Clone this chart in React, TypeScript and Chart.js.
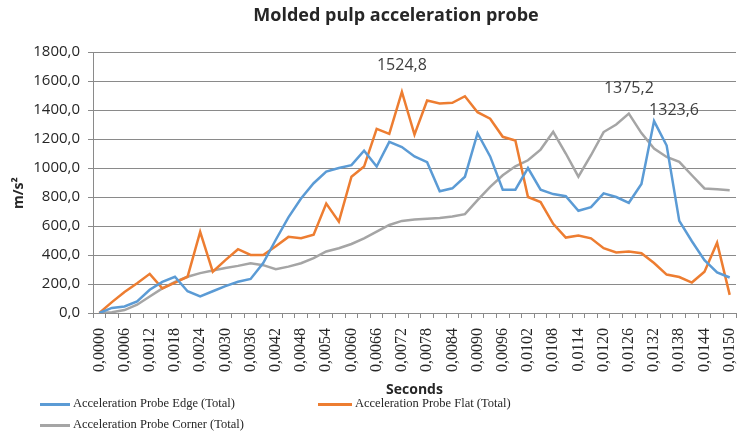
import React, { useEffect, useRef } from "react";
import { Chart, registerables } from "chart.js";

Chart.register(...registerables);

const categories: string[] = [
  "0,0000", "0,0003", "0,0006", "0,0009", "0,0012", "0,0015", "0,0018", "0,0021", "0,0024", "0,0027",
  "0,0030", "0,0033", "0,0036", "0,0039", "0,0042", "0,0045", "0,0048", "0,0051", "0,0054", "0,0057",
  "0,0060", "0,0063", "0,0066", "0,0069", "0,0072", "0,0075", "0,0078", "0,0081", "0,0084", "0,0087",
  "0,0090", "0,0093", "0,0096", "0,0099", "0,0102", "0,0105", "0,0108", "0,0111", "0,0114", "0,0117",
  "0,0120", "0,0123", "0,0126", "0,0129", "0,0132", "0,0135", "0,0138", "0,0141", "0,0144", "0,0147",
  "0,0150",
];

const edgeValues: number[] = [
  0, 35, 45, 80, 160, 215, 250, 150, 115, 150,
  185, 215, 235, 345, 505, 660, 790, 895, 975, 1000,
  1020, 1120, 1010, 1180, 1145, 1080, 1040, 840, 860, 940,
  1240, 1080, 850, 850, 1000, 850, 820, 805, 705, 730,
  825, 800, 760, 890, 1323.6, 1155, 635, 495, 365, 280,
  245,
];

const flatValues: number[] = [
  0, 75, 145, 205, 270, 170, 210, 250, 560, 285,
  365, 440, 400, 400, 460, 525, 515, 540, 755, 630,
  940, 1010, 1270, 1235, 1524.8, 1230, 1465, 1445, 1450, 1495,
  1385, 1340, 1215, 1190, 800, 765, 615, 520, 535, 515,
  447, 417, 424, 412, 345, 265, 248, 210, 285, 485,
  125,
];

const cornerValues: number[] = [
  0, 5, 20, 57, 114, 170, 215, 250, 275, 293,
  310, 325, 343, 330, 302, 320, 343, 378, 424, 447,
  476, 515, 561, 607, 635, 645, 650, 655, 665, 682,
  779, 870, 950, 1012, 1053, 1127, 1250, 1100, 940, 1088,
  1248, 1300, 1375.2, 1241, 1134, 1076, 1042, 950, 859, 854,
  847,
];

const seriesNames: string[] = [
  "Acceleration Probe Edge (Total)",
  "Acceleration Probe Flat (Total)",
  "Acceleration Probe Corner (Total)",
];
const seriesColors: string[] = ["#5b9bd5", "#ed7d31", "#a5a5a5"];

// which points carry a value label: [dataset index, point index, dx, dy]
const labelledPoints: [number, number, number, number][] = [
  [1, 24, 0, -26],
  [2, 42, 0, -25],
  [0, 44, 20, -11],
];

const fmt = (v: number) => v.toFixed(1).replace(".", ",");

const GRID = "#8a8a8a";

const valueLabelPlugin = {
  id: "valueLabels",
  afterDatasetsDraw(chart: any) {
    const ctx = chart.ctx;
    ctx.save();
    ctx.font = "16px 'Open Sans'";
    ctx.fillStyle = "#404040";
    ctx.textAlign = "center";
    ctx.textBaseline = "middle";
    for (const [ds, i, dx, dy] of labelledPoints) {
      const el = chart.getDatasetMeta(ds).data[i];
      const v = chart.data.datasets[ds].data[i] as number;
      ctx.fillText(fmt(v), el.x + dx, el.y + dy);
    }
    ctx.restore();
  },
};

export default function App() {
  const ref = useRef<HTMLCanvasElement | null>(null);

  useEffect(() => {
    if (!ref.current) return;
    const datasets = [edgeValues, flatValues, cornerValues].map((d, k) => ({
      label: seriesNames[k],
      data: d,
      borderColor: seriesColors[k],
      backgroundColor: seriesColors[k],
      borderWidth: 2.5,
      pointRadius: 0,
      tension: 0,
      fill: false,
    }));
    const chart = new Chart(ref.current, {
      type: "line",
      data: { labels: categories, datasets },
      plugins: [valueLabelPlugin],
      options: {
        animation: false,
        responsive: false,
        layout: { padding: { top: 52, right: 2, bottom: 42, left: 0 } },
        plugins: {
          legend: { display: false },
          title: { display: false },
          tooltip: { enabled: false },
        },
        scales: {
          x: {
            type: "category",
            offset: true,
            grid: {
              display: true,
              drawOnChartArea: false,
              drawTicks: true,
              tickLength: 5,
              offset: true,
              color: GRID,
            },
            border: { display: true, color: GRID },
            ticks: {
              autoSkip: false,
              maxRotation: 90,
              minRotation: 90,
              padding: 10,
              color: "#262626",
              font: { family: "'Liberation Serif'", size: 16 },
              callback: (_v: any, i: number) => (i % 2 === 0 ? categories[i] : ""),
            },
            title: {
              display: true,
              text: "Seconds",
              color: "#262626",
              font: { family: "'Open Sans'", size: 14, weight: "bold" },
              padding: { top: 0, bottom: 2 },
            },
            afterFit: (s: any) => {
              s.height = 87;
              s.paddingLeft = 0;
              s.paddingRight = 0;
            },
          },
          y: {
            min: 0,
            max: 1800,
            ticks: {
              stepSize: 200,
              padding: 8,
              color: "#262626",
              font: { family: "'Open Sans'", size: 15 },
              callback: (v: any) => fmt(Number(v)),
            },
            grid: { color: GRID, tickLength: 5, lineWidth: 1 },
            border: { display: true, color: GRID },
            title: { display: false },
            afterFit: (s: any) => {
              s.width = 93;
            },
          },
        },
      },
    });
    return () => chart.destroy();
  }, []);

  const legendText: React.CSSProperties = {
    position: "absolute",
    fontFamily: "'Liberation Serif'",
    fontSize: 12.5,
    color: "#262626",
    whiteSpace: "nowrap",
    lineHeight: "16px",
  };
  const legendItems: { k: number; left: number; top: number; w: number }[] = [
    { k: 0, left: 40, top: 404, w: 30 },
    { k: 1, left: 318, top: 404, w: 34 },
    { k: 2, left: 40, top: 425, w: 30 },
  ];

  return (
    <div style={{ position: "fixed", left: 0, top: 0, width: 738, height: 442, background: "#fff", overflow: "hidden" }}>
      <canvas ref={ref} width={738} height={442} style={{ position: "absolute", left: 0, top: 0 }} />
      <div
        style={{
          position: "absolute",
          left: 0,
          width: 792,
          top: 2,
          textAlign: "center",
          fontFamily: "'Open Sans'",
          fontWeight: "bold",
          fontSize: 18,
          color: "#262626",
          lineHeight: "24px",
        }}
      >
        Molded pulp acceleration probe
      </div>
      <div
        style={{
          position: "absolute",
          left: 18 - 30,
          top: 193 - 10,
          width: 60,
          height: 20,
          lineHeight: "20px",
          textAlign: "center",
          transform: "rotate(-90deg)",
          fontFamily: "'Open Sans'",
          fontWeight: "bold",
          fontSize: 14,
          color: "#262626",
          whiteSpace: "nowrap",
        }}
      >
        m/s²
      </div>
      {legendItems.map((it) => (
        <React.Fragment key={it.k}>
          <div
            style={{
              position: "absolute",
              left: it.left,
              top: it.top - 1,
              width: it.w,
              height: 2.5,
              background: seriesColors[it.k],
            }}
          />
          <div style={{ ...legendText, left: it.left + it.w + 3, top: it.top - 9 }}>{seriesNames[it.k]}</div>
        </React.Fragment>
      ))}
    </div>
  );
}
